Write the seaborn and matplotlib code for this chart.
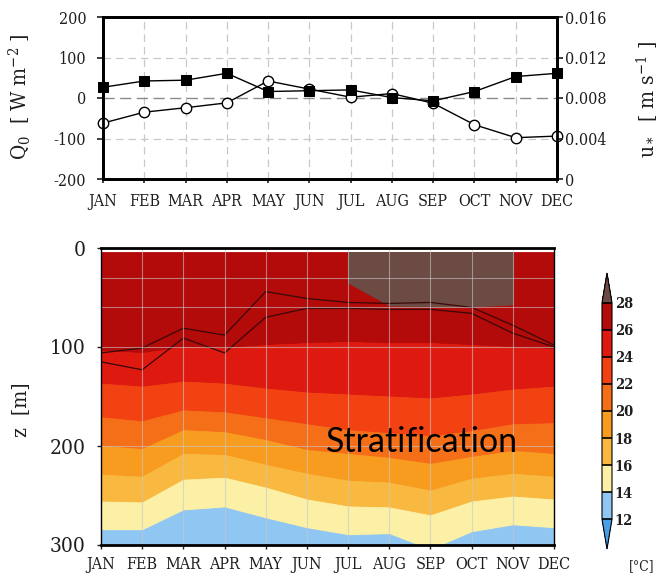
import numpy as np
import pandas as pd
import matplotlib
matplotlib.use("Agg")
import matplotlib.pyplot as plt
import matplotlib.font_manager as fm
from matplotlib.colors import ListedColormap, BoundaryNorm
from matplotlib.cm import ScalarMappable
import seaborn as sns

# ---------------- data ----------------
months = ['JAN', 'FEB', 'MAR', 'APR', 'MAY', 'JUN', 'JUL', 'AUG', 'SEP', 'OCT', 'NOV', 'DEC']
q0 = [-62, -35, -24, -12, 42, 22, 2, 11, -13, -66, -98, -94]            # W m-2 (open circles)
ustar = [0.00906, 0.00968, 0.00976, 0.01044, 0.00864, 0.00872,
         0.0088, 0.00804, 0.00772, 0.00864, 0.01012, 0.01044]         # m s-1 (filled squares)

# isotherm depths (m) per month
iso28 = [np.nan] * 6 + [35, 58, 59, 59, 57] + [np.nan]
iso26 = [104, 106, 100, 101, 98, 96, 95, 96, 96, 98, 100, 102]
iso24 = [137, 140, 135, 137, 142, 146, 148, 150, 152, 148, 143, 140]
iso22 = [171, 175, 164, 166, 172, 178, 184, 187, 190, 185, 178, 177]
iso20 = [200, 203, 184, 186, 194, 204, 208, 212, 218, 211, 205, 208]
iso18 = [229, 231, 208, 209, 219, 228, 235, 237, 245, 233, 228, 231]
iso16 = [256, 257, 234, 232, 242, 254, 261, 262, 270, 256, 251, 254]
iso14 = [285, 285, 265, 262, 273, 283, 290, 289, 305, 287, 280, 283]

# mixed-layer depth lines (m)
mld_a = [106, 101, 81, 88, 44, 51, 55, 56, 55, 60, 78, 98]
mld_b = [115, 123, 91, 106, 70, 61, 61, 62, 62, 66, 86, 100]

levels = [12, 14, 16, 18, 20, 22, 24, 26, 28]
band_colors = ['#90c6f2', '#fbf0a6', '#f9b840', '#f89c20', '#f56e18',
               '#f24212', '#de1a10', '#b30a0a']
over_color = '#6b4b43'
under_color = '#4a9ee6'

# ---------------- style ----------------
sns.set_theme(style='white')
names = {f.name for f in fm.fontManager.ttflist}
SERIF = 'DejaVu Serif'
STRETCH = 'normal'
if 'DejaVu Serif Condensed' in names:
    SERIF = 'DejaVu Serif Condensed'
elif any(f.name == 'DejaVu Serif' and str(f.stretch) == 'condensed' for f in fm.fontManager.ttflist):
    STRETCH = 'condensed'
plt.rcParams['font.family'] = [SERIF, 'DejaVu Serif']
plt.rcParams['font.stretch'] = STRETCH
plt.rcParams['mathtext.fontset'] = 'dejavuserif'
TXT = '#1e1e1e'

fig = plt.figure(figsize=(6.62, 5.82), dpi=100)
x = np.arange(12)
df = pd.DataFrame({'m': x, 'q0': q0, 'ustar': ustar})

# ---------------- top panel ----------------
ax1 = fig.add_axes([103 / 662, 1 - 179 / 582, 454 / 662, 162 / 582])
ax1.set_xlim(0, 11)
ax1.set_ylim(-200, 200)
for xv in x[1:-1]:
    ax1.axvline(xv, color='#c8c8c8', lw=0.9, dashes=(6, 4), zorder=0)
for yv in (-100, 100):
    ax1.axhline(yv, color='#c8c8c8', lw=0.9, dashes=(6, 4), zorder=0)
ax1.axhline(0, color='#8a8a8a', lw=1.0, dashes=(8, 4), zorder=0)

sns.lineplot(data=df, x='m', y='q0', ax=ax1, color='black', lw=1.0,
             marker='o', markersize=7.5, markerfacecolor='white',
             markeredgecolor='black', markeredgewidth=1.0, clip_on=False, zorder=3)
ax1.set_yticks([-200, -100, 0, 100, 200])
ax1.set_yticklabels(['-200', '-100', '0', '100', '200'])
ax1.set_xticks(x)
ax1.set_xticklabels(months)
ax1.set_xlabel('')
ax1.set_ylabel('')
ax1.tick_params(axis='y', direction='out', length=4, width=1.2, pad=8,
                labelsize=11.5, colors=TXT, left=True)
ax1.tick_params(axis='x', direction='out', length=3, width=1.2, pad=7,
                labelsize=11.5, colors=TXT, bottom=True)

ax1b = ax1.twinx()
sns.lineplot(data=df, x='m', y='ustar', ax=ax1b, color='black', lw=1.0,
             marker='s', markersize=7, markerfacecolor='black',
             markeredgecolor='black', clip_on=False, zorder=3)
ax1b.set_ylim(0, 0.016)
ax1b.set_yticks([0, 0.004, 0.008, 0.012, 0.016])
ax1b.set_yticklabels(['0', '0.004', '0.008', '0.012', '0.016'])
ax1b.set_ylabel('')
ax1b.tick_params(axis='y', direction='out', length=4, width=1.2, pad=2,
                 labelsize=11.5, colors=TXT, right=True)
for a in (ax1, ax1b):
    for s in a.spines.values():
        s.set_color('black')
        s.set_linewidth(2.0)

fig.text(20 / 662, 1 - 97 / 582, r'Q$_0$  [ W m$^{-2}$ ]', rotation=90,
         ha='center', va='center', fontsize=15, color=TXT)
fig.text(647 / 662, 1 - 100 / 582, r'u$_*$  [ m s$^{-1}$ ]', rotation=90,
         ha='center', va='center', fontsize=15, color=TXT)

# ---------------- bottom panel ----------------
ax2 = fig.add_axes([101 / 662, 1 - 545 / 582, 453 / 662, 297 / 582])
ax2.set_xlim(0, 11)
ax2.set_ylim(300, 0)
surface = np.full(12, 4.0)
bottom = np.full(12, 300.0)
bounds = [surface, iso26, iso24, iso22, iso20, iso18, iso16, iso14, bottom]
fills = band_colors[::-1]
for i, col in enumerate(fills):
    ax2.fill_between(x, bounds[i], bounds[i + 1], color=col, lw=0.6,
                     edgecolor=col, zorder=1)
ax2.fill_between(x, surface, np.array(iso28, dtype=float), color=over_color,
                 lw=0.6, edgecolor=over_color, zorder=2)

mdf = pd.DataFrame({'m': np.concatenate([x, x]),
                    'depth': mld_a + mld_b,
                    'line': ['a'] * 12 + ['b'] * 12})
sns.lineplot(data=mdf, x='m', y='depth', units='line', estimator=None, ax=ax2,
             color='#3a0808', lw=0.9, zorder=3)

for xv in x[1:-1]:
    ax2.axvline(xv, color='#c8c8c8', lw=0.8, alpha=0.6, zorder=4)
for yv in (30, 60, 100, 200):
    ax2.axhline(yv, color='#c8c8c8', lw=0.8, alpha=0.6, zorder=4)

ax2.text(5.46, 196, 'Stratification', fontsize=24.5, family='Lato',
         stretch='normal', color='black', ha='left', va='center', zorder=6)

ax2.set_yticks([0, 100, 200, 300])
ax2.set_yticklabels(['0', '100', '200', '300'])
ax2.set_xticks(x)
ax2.set_xticklabels(months)
ax2.set_xlabel('')
ax2.set_ylabel('')
ax2.tick_params(axis='y', direction='out', length=3, width=1.0, pad=8,
                labelsize=15, colors=TXT, left=True)
ax2.tick_params(axis='x', direction='out', length=3, width=1.0, pad=5,
                labelsize=11.5, colors=TXT, bottom=True)
for side, s in ax2.spines.items():
    s.set_color('black')
    s.set_linewidth(2.0 if side in ('top', 'bottom') else 1.0)
    s.set_zorder(7)

fig.text(22 / 662, 1 - 410 / 582, 'z  [m]', rotation=90, ha='center',
         va='center', fontsize=15, color=TXT)

# ---------------- colorbar ----------------
cmap = ListedColormap(band_colors)
cmap.set_over(over_color)
cmap.set_under(under_color)
norm = BoundaryNorm(levels, cmap.N)
cax = fig.add_axes([602 / 662, 1 - 549 / 582, 10 / 662, 276 / 582])
cb = fig.colorbar(ScalarMappable(norm=norm, cmap=cmap), cax=cax,
                  extend='both', extendfrac=0.138, drawedges=True, ticks=levels)
cb.outline.set_edgecolor('black')
cb.outline.set_linewidth(0.8)
cb.dividers.set_color('black')
cb.dividers.set_linewidth(1.2)
cb.ax.tick_params(length=0, pad=2, labelsize=10.5, colors=TXT)
for t in cb.ax.get_yticklabels():
    t.set_fontweight('bold')
fig.text(642 / 662, 1 - 566 / 582, '[°C]', ha='center', va='center',
         fontsize=10, color=TXT)

fig.savefig('out.png', dpi=100)
